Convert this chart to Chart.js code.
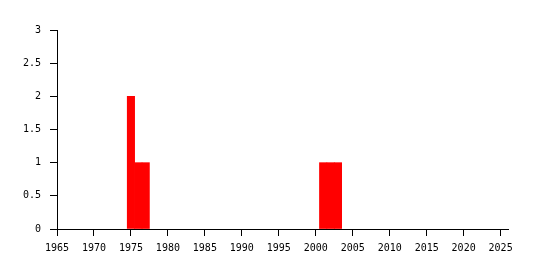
<!DOCTYPE html>
<html>
<head>
<meta charset="utf-8">
<script src="https://cdn.jsdelivr.net/npm/chart.js@4/dist/chart.umd.min.js"></script>
<style>
  html, body { margin: 0; padding: 0; background: #fff; }
  #wrap { width: 535px; height: 270px; }
</style>
</head>
<body>
<div id="wrap"><canvas id="myChart" width="535" height="270"></canvas></div>
<script>
var years = [1975, 1976, 1977, 2001, 2002, 2003];
var counts = [2, 1, 1, 1, 1, 1];
var xTicks = [1965, 1970, 1975, 1980, 1985, 1990, 1995, 2000, 2005, 2010, 2015, 2020, 2025];
var yTicks = [0, 0.5, 1, 1.5, 2, 2.5, 3];

var points = years.map(function (y, i) {
    return {x: y, y: counts[i]};
});

function plain(value) {
    return String(value);
}

var ctx = document.getElementById("myChart");
var myBarChart = new Chart(ctx, {
    type: 'bar',
    data: {
        datasets: [{
            data: points,
            backgroundColor: "#FF0000",
            borderColor: "#FF0000",
            borderWidth: 0,
            borderSkipped: false,
            barPercentage: 1,
            categoryPercentage: 1
        }]
    },
    options: {
        responsive: false,
        animation: false,
        layout: {
            padding: {left: 0, right: 27, top: 30, bottom: 0}
        },
        plugins: {
            legend: {display: false},
            tooltip: {enabled: false}
        },
        scales: {
            x: {
                type: 'linear',
                min: 1965,
                max: 2026,
                offset: false,
                afterBuildTicks: function (scale) {
                    scale.ticks = xTicks.map(function (v) { return {value: v}; });
                },
                afterFit: function (scale) { scale.height = 41; },
                grid: {
                    display: true,
                    offset: false,
                    drawOnChartArea: false,
                    drawTicks: true,
                    tickLength: 7,
                    color: '#000'
                },
                border: {display: true, color: '#000'},
                ticks: {
                    color: '#000',
                    padding: 6,
                    maxRotation: 0,
                    autoSkip: false,
                    callback: plain,
                    font: {family: '"DejaVu Sans Mono"', size: 10}
                }
            },
            y: {
                min: 0,
                max: 3,
                afterBuildTicks: function (scale) {
                    scale.ticks = yTicks.map(function (v) { return {value: v}; });
                },
                afterFit: function (scale) { scale.width = 57; },
                grid: {
                    display: true,
                    drawOnChartArea: false,
                    drawTicks: true,
                    tickLength: 7,
                    color: '#000'
                },
                border: {display: true, color: '#000'},
                ticks: {
                    color: '#000',
                    padding: 9,
                    callback: plain,
                    font: {family: '"DejaVu Sans Mono"', size: 10}
                }
            }
        }
    }
});
</script>
</body>
</html>
